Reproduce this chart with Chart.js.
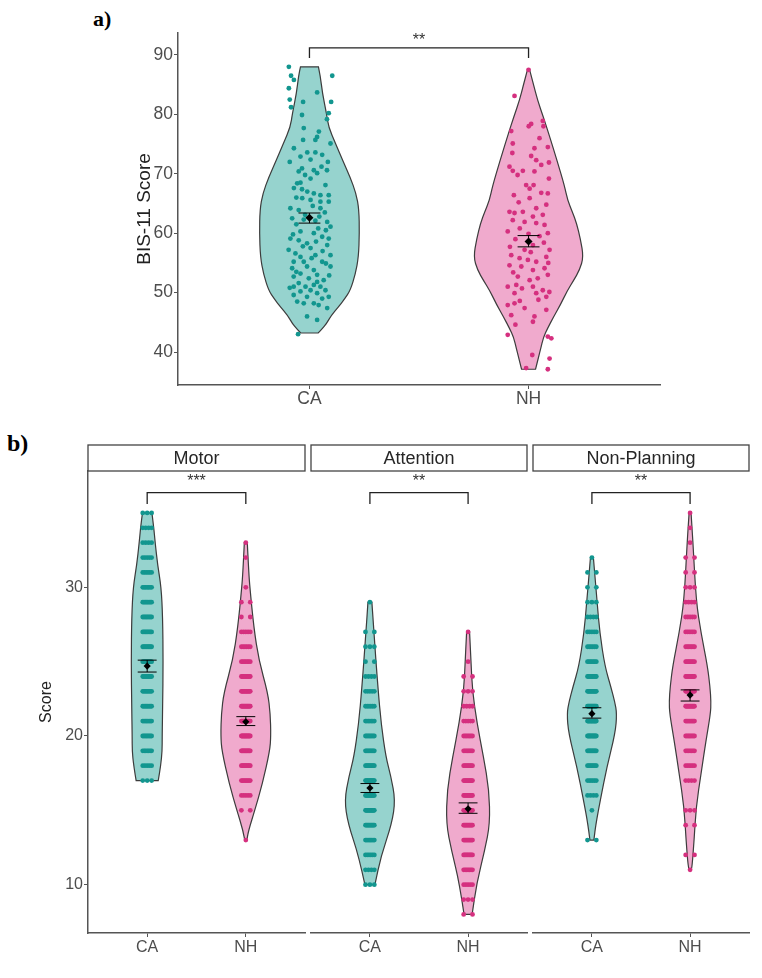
<!DOCTYPE html>
<html>
<head>
<meta charset="utf-8">
<title>BIS-11 violins</title>
<script src="https://cdn.jsdelivr.net/npm/chart.js@4.4.1/dist/chart.umd.min.js"></script>
<style>
  html, body { margin: 0; padding: 0; background: #fff; }
  #wrap { position: relative; width: 762px; height: 978px; overflow: hidden; background: #fff; }
  #wrap canvas { position: absolute; left: 0; }
  .tag { position: absolute; font-family: "Liberation Serif", "Times New Roman", serif; font-weight: bold; line-height: 1; color: #000; }
</style>
</head>
<body>
<div id="wrap">
  <div class="tag" style="left:93px; top:8px; font-size:22px;">a)</div>
  <div class="tag" style="left:7px; top:431px; font-size:24px;">b)</div>
  <canvas id="chartTotal" width="762" height="420" style="top:0;"></canvas>
  <canvas id="chartMotor" width="762" height="538" style="top:440px;"></canvas>
  <canvas id="chartAttention" width="762" height="538" style="top:440px;"></canvas>
  <canvas id="chartNonPlanning" width="762" height="538" style="top:440px;"></canvas>
</div>
<script>
"use strict";

const groups = ["CA", "NH"];
const fillColors = ["#96d3ce", "#f0aacd"];
const dotColors = ["#12968f", "#d5307f"];

// a) BIS-11 total score, jittered points (score / horizontal jitter in category units)
const bisCaScores = [88.0, 86.5, 85.8, 84.4, 82.5, 81.2, 82.1, 83.7, 86.5, 82.1, 80.2, 79.2, 79.9, 77.7, 75.7, 77.1, 76.2, 75.7, 75.1, 74.3,
  73.6, 73.6, 73.2, 72.9, 72.4, 72.0, 72.0, 70.9, 70.6, 70.4, 69.2, 70.1, 70.6, 68.4, 68.5, 67.6, 67.4, 67.0, 68.1, 66.7,
  66.4, 66.4, 65.9, 65.6, 65.3, 65.3, 64.2, 63.9, 64.2, 62.5, 62.3, 62.1, 61.9, 61.1, 60.3, 60.0, 59.1, 58.8, 58.3, 59.4,
  59.1, 58.0, 57.5, 57.2, 56.6, 56.0, 56.3, 56.3, 55.2, 55.2, 55.2, 54.4, 54.1, 54.4, 53.8, 53.2, 53.0, 52.7, 52.4, 52.1,
  51.6, 51.3, 51.0, 51.0, 51.0, 50.4, 50.4, 50.2, 49.9, 49.6, 49.3, 49.3, 49.0, 48.5, 48.2, 48.2, 47.9, 47.4, 46.0, 45.4,
  43.0, 63.1, 63.5, 61.5, 60.8, 60.5, 59.8, 58.6, 57.8, 57.0, 55.8, 54.9, 53.5, 52.9, 51.8, 50.8, 62.8, 64.6, 66.0, 69.8, 71.2];
const bisCaJitter = [-0.094, -0.084, -0.071, -0.094, -0.090, -0.084, -0.029, 0.035, 0.104, 0.099, 0.088, 0.080, -0.034, -0.026, -0.029, 0.043, 0.035, 0.027, 0.096, -0.071,
  -0.010, 0.027, 0.058, -0.041, 0.005, -0.090, 0.084, -0.034, 0.020, -0.049, 0.005, 0.035, 0.080, -0.056, -0.041, -0.071, -0.034, -0.010, 0.073, 0.020,
  0.050, 0.088, -0.033, 0.005, 0.050, 0.088, -0.087, -0.049, 0.050, -0.079, -0.026, 0.027, 0.081, 0.096, -0.041, 0.020, -0.087, -0.049, -0.011, 0.058,
  0.088, 0.081, 0.005, -0.095, -0.064, -0.041, 0.027, 0.096, -0.026, -0.072, 0.058, -0.011, -0.079, 0.096, 0.020, -0.041, 0.035, -0.072, -0.003, 0.065,
  -0.049, 0.020, -0.018, 0.050, -0.072, 0.005, 0.073, -0.041, 0.035, -0.072, 0.088, -0.011, 0.058, -0.056, 0.020, -0.026, 0.042, 0.081, -0.011, 0.035,
  -0.052, -0.020, 0.070, -0.060, 0.040, 0.075, -0.075, 0.030, -0.030, 0.060, 0.010, 0.075, -0.060, 0.090, 0.035, -0.090, 0.045, 0.015, -0.060, -0.020, 0.055];
const bisNhScores = [87.5, 83.1, 78.4, 78.0, 78.9, 78.0, 77.2, 75.1, 74.3, 74.5, 73.5, 73.0, 72.3, 71.5, 71.9, 71.2, 70.5, 70.5, 70.4, 69.2,
  68.1, 68.1, 66.4, 66.8, 66.7, 65.9, 64.8, 63.6, 63.4, 63.6, 62.8, 63.1, 62.2, 61.9, 61.7, 61.4, 60.0, 60.3, 58.0, 57.2,
  57.2, 56.3, 55.8, 55.5, 55.2, 56.0, 54.6, 54.4, 53.8, 54.1, 53.0, 52.7, 52.1, 52.4, 51.0, 51.3, 51.0, 50.4, 49.3, 49.9,
  49.9, 47.9, 48.2, 47.4, 46.2, 46.0, 47.1, 45.1, 42.9, 42.6, 42.3, 39.5, 38.9, 37.3, 37.1, 60.8, 59.5, 59.0, 58.4, 57.7,
  56.8, 55.0, 53.4, 50.7, 50.1, 48.8, 48.6, 44.6, 64.2, 65.2, 67.5, 69.8, 76.0, 59.9];
const bisNhJitter = [0.000, -0.064, 0.012, 0.001, 0.065, 0.068, -0.079, -0.072, 0.027, 0.088, -0.074, 0.012, 0.035, 0.058, 0.093, -0.087, -0.072, -0.026, 0.027, 0.093,
  -0.011, 0.023, -0.067, 0.058, 0.088, 0.005, 0.081, -0.087, -0.064, -0.026, 0.020, 0.065, -0.072, -0.018, 0.035, 0.073, 0.088, -0.095, 0.020, -0.018,
  0.096, -0.079, -0.041, -0.003, 0.035, 0.081, -0.087, -0.033, 0.020, 0.073, 0.088, -0.049, 0.005, 0.042, -0.095, -0.056, 0.020, 0.065, 0.081, -0.064,
  0.035, -0.095, -0.064, -0.018, -0.079, 0.027, 0.081, 0.020, -0.095, 0.088, 0.104, 0.017, 0.096, -0.011, 0.088, -0.040, 0.050, -0.060, 0.070, -0.085,
  0.010, 0.090, -0.070, -0.030, 0.095, 0.045, -0.040, -0.060, 0.035, -0.045, 0.005, -0.050, 0.050, 0.000];

// violin outlines: [score, half width in category units]
const bisCaViolin = [[88, 0.041], [86.4, 0.050], [83.6, 0.059], [80.1, 0.078], [77.9, 0.087], [75.1, 0.119], [72.3, 0.151], [69.5, 0.185],
  [66.7, 0.213], [64, 0.226], [60, 0.228], [56, 0.224], [53.2, 0.210], [50.4, 0.187], [48.9, 0.160], [47.6, 0.132], [46.2, 0.100],
  [44.8, 0.078], [43.9, 0.058], [43.2, 0.040]];
const bisNhViolin = [[87.5, 0.005], [85, 0.023], [82.4, 0.041], [79.5, 0.068], [76.9, 0.091], [72, 0.132], [68, 0.164], [65.6, 0.178],
  [63.5, 0.201], [61.7, 0.219], [59, 0.237], [56, 0.251], [53.8, 0.233], [52, 0.205], [50.4, 0.178], [48, 0.146], [45.9, 0.114],
  [44, 0.087], [42.5, 0.068], [40.5, 0.055], [39.2, 0.046], [37.1, 0.032]];
const bisMeans = [62.6, 58.6];
const bisSeLow = [61.7, 57.7];
const bisSeHigh = [63.4, 59.6];
const bisTicks = [40, 50, 60, 70, 80, 90];

// b) subscales, points stacked on integer scores: [score, count]
const subscales = ["Motor", "Attention", "Non-Planning"];
const subTicks = [10, 20, 30];
const subStars = ["***", "**", "**"];

const motorCaCounts = [[17, 3], [18, 5], [19, 7], [20, 8], [21, 8], [22, 8], [23, 8], [24, 9], [25, 9], [26, 9], [27, 8], [28, 8], [29, 8], [30, 7], [31, 6], [32, 5], [33, 4], [34, 4], [35, 3]];
const motorNhCounts = [[13, 1], [15, 2], [16, 5], [17, 8], [18, 11], [19, 13], [20, 14], [21, 14], [22, 12], [23, 11], [24, 9], [25, 7], [26, 6], [27, 5], [28, 2], [29, 2], [30, 1], [32, 1], [33, 1]];
const attentionCaCounts = [[10, 3], [11, 4], [12, 6], [13, 8], [14, 11], [15, 13], [16, 13], [17, 12], [18, 10], [19, 9], [20, 8], [21, 7], [22, 6], [23, 5], [24, 4], [25, 2], [26, 3], [27, 2], [29, 1]];
const attentionNhCounts = [[8, 2], [9, 3], [10, 5], [11, 7], [12, 9], [13, 10], [14, 11], [15, 11], [16, 11], [17, 10], [18, 9], [19, 8], [20, 7], [21, 5], [22, 4], [23, 3], [24, 2], [25, 1], [27, 1]];
const nonPlanningCaCounts = [[13, 2], [15, 1], [16, 4], [17, 6], [18, 8], [19, 11], [20, 12], [21, 13], [22, 13], [23, 11], [24, 9], [25, 7], [26, 6], [27, 5], [28, 4], [29, 3], [30, 2], [31, 2], [32, 1]];
const nonPlanningNhCounts = [[11, 1], [12, 2], [14, 2], [15, 3], [17, 4], [18, 6], [19, 7], [20, 8], [21, 9], [22, 10], [23, 10], [24, 9], [25, 8], [26, 7], [27, 6], [28, 5], [29, 4], [30, 3], [31, 2], [32, 2], [33, 1], [34, 1], [35, 1]];

const motorCaViolin = [[35, 0.048], [34, 0.067], [33, 0.081], [31.5, 0.106], [30, 0.142], [28, 0.157], [25, 0.162], [22, 0.157], [20, 0.152], [19, 0.152], [18, 0.137], [17, 0.112]];
const motorNhViolin = [[33, 0.015], [31, 0.030], [30, 0.041], [27.3, 0.081], [25.1, 0.132], [22.9, 0.223], [21.5, 0.248], [20, 0.254], [19, 0.243], [16.8, 0.169], [15, 0.091], [13.7, 0.030], [13, 0.010]];
const attentionCaViolin = [[29, 0.020], [26.9, 0.041], [23.3, 0.081], [20.8, 0.115], [18.6, 0.162], [17.3, 0.213], [15.7, 0.259], [14.1, 0.223], [11.9, 0.112], [10, 0.051]];
const attentionNhViolin = [[27, 0.015], [25, 0.030], [23.1, 0.043], [20.85, 0.091], [18.6, 0.157], [16.4, 0.213], [14.1, 0.223], [12.3, 0.169], [10.1, 0.088], [8, 0.041]];
const nonPlanningCaViolin = [[32, 0.015], [29.1, 0.051], [26.9, 0.081], [24.7, 0.132], [23.3, 0.193], [22.3, 0.233], [21.5, 0.254], [20.2, 0.238], [17.9, 0.152], [15.7, 0.086], [14.1, 0.041], [13, 0.020]];
const nonPlanningNhViolin = [[35, 0.010], [33, 0.030], [29.1, 0.061], [26.9, 0.112], [24.7, 0.177], [23.3, 0.203], [22.3, 0.213], [21.5, 0.208], [19.7, 0.162], [17.5, 0.112], [15.2, 0.061], [13, 0.041], [11.2, 0.020], [11, 0.010]];

const subMeans = [[24.7, 20.95], [16.5, 15.1], [21.5, 22.75]];
const subSeLow = [[24.3, 20.7], [16.2, 14.8], [21.2, 22.35]];
const subSeHigh = [[25.1, 21.3], [16.8, 15.5], [21.9, 23.1]];

const family = "'Liberation Sans', Arial, Helvetica, sans-serif";
Chart.defaults.font.family = family;

function jitterPoints(scores, jitter, center) {
    return scores.map((s, i) => ({ x: center + jitter[i], y: s }));
}

// spread the points of one score level evenly across a small band
function stackedPoints(counts, center) {
    const pts = [];
    counts.forEach(([score, n]) => {
        for (let i = 0; i < n; i++) {
            const off = n === 1 ? 0 : -0.045 + 0.09 * i / (n - 1);
            pts.push({ x: center + off, y: score });
        }
    });
    return pts;
}

function smoothSide(ctx, pts) {
    for (let i = 1; i < pts.length - 1; i++) {
        const mx = (pts[i][0] + pts[i + 1][0]) / 2;
        const my = (pts[i][1] + pts[i + 1][1]) / 2;
        ctx.quadraticCurveTo(pts[i][0], pts[i][1], mx, my);
    }
    const last = pts[pts.length - 1];
    ctx.lineTo(last[0], last[1]);
}

function violinLayer(p) {
    return {
        id: "violinLayer",
        beforeDatasetsDraw(chart) {
            const { ctx, scales: { x, y } } = chart;
            ctx.save();
            p.shapes.forEach((shape, i) => {
                const c = i + 1;
                const right = shape.map(s => [x.getPixelForValue(c + s[1]), y.getPixelForValue(s[0])]);
                const left = shape.map(s => [x.getPixelForValue(c - s[1]), y.getPixelForValue(s[0])]).reverse();
                ctx.beginPath();
                ctx.moveTo(right[0][0], right[0][1]);
                smoothSide(ctx, right);
                ctx.lineTo(left[0][0], left[0][1]);
                smoothSide(ctx, left);
                ctx.closePath();
                ctx.fillStyle = fillColors[i];
                ctx.fill();
                ctx.lineWidth = 1.2;
                ctx.strokeStyle = "#3c3c3c";
                ctx.stroke();
            });
            ctx.restore();
        },
        afterDatasetsDraw(chart) {
            const { ctx, scales: { x, y } } = chart;
            ctx.save();
            ctx.strokeStyle = "#000";
            ctx.lineWidth = 1;
            p.means.forEach((m, i) => {
                const c = i + 1;
                const lo = y.getPixelForValue(p.seLow[i]);
                const hi = y.getPixelForValue(p.seHigh[i]);
                const xl = x.getPixelForValue(c - p.capHalf);
                const xr = x.getPixelForValue(c + p.capHalf);
                const xc = x.getPixelForValue(c);
                ctx.beginPath();
                ctx.moveTo(xl, lo); ctx.lineTo(xr, lo);
                ctx.moveTo(xl, hi); ctx.lineTo(xr, hi);
                ctx.moveTo(xc, lo); ctx.lineTo(xc, hi);
                ctx.stroke();
            });
            ctx.restore();
        },
        afterDraw(chart) {
            const { ctx, scales: { x, y }, chartArea } = chart;
            const b = p.bracket;
            const x1 = x.getPixelForValue(1);
            const x2 = x.getPixelForValue(2);
            const yl = y.getPixelForValue(b.line);
            const yd = y.getPixelForValue(b.drop);
            ctx.save();
            ctx.strokeStyle = "#222";
            ctx.lineWidth = 1.3;
            ctx.beginPath();
            ctx.moveTo(x1, yd); ctx.lineTo(x1, yl); ctx.lineTo(x2, yl); ctx.lineTo(x2, yd);
            ctx.stroke();
            ctx.fillStyle = "#333";
            ctx.font = b.size + "px " + family;
            ctx.textAlign = "center";
            ctx.textBaseline = "alphabetic";
            ctx.fillText(p.stars, (x1 + x2) / 2, y.getPixelForValue(b.text));
            if (p.strip) {
                const h = 26;
                ctx.fillStyle = "#fff";
                ctx.fillRect(chartArea.left, chartArea.top - h, chartArea.right - chartArea.left, h);
                ctx.strokeStyle = "#444";
                ctx.lineWidth = 1.3;
                ctx.strokeRect(chartArea.left, chartArea.top - h, chartArea.right - chartArea.left, h);
                ctx.fillStyle = "#262626";
                ctx.font = "18px " + family;
                ctx.textBaseline = "middle";
                ctx.fillText(p.strip, (chartArea.left + chartArea.right) / 2, chartArea.top - h / 2 + 1);
            }
            ctx.restore();
        }
    };
}

function buildPanel(canvasId, p) {
    const datasets = [{
        data: p.means.map((m, i) => ({ x: i + 1, y: m })),
        pointStyle: "rectRot",
        pointRadius: p.meanRadius,
        backgroundColor: "#000",
        borderWidth: 0
    }];
    p.dots.forEach((pts, i) => datasets.push({
        data: pts,
        pointRadius: p.dotRadius,
        backgroundColor: dotColors[i],
        borderWidth: 0
    }));

    return new Chart(document.getElementById(canvasId), {
        type: "scatter",
        data: { datasets: datasets },
        options: {
            responsive: false,
            animation: false,
            events: [],
            layout: { padding: p.padding },
            plugins: { legend: { display: false }, tooltip: { enabled: false } },
            scales: {
                x: {
                    type: "linear",
                    min: 0.4,
                    max: 2.6,
                    afterBuildTicks: s => { s.ticks = [{ value: 1 }, { value: 2 }]; },
                    afterFit: s => { s.height = p.xHeight; },
                    ticks: {
                        callback: v => groups[v - 1],
                        font: { size: p.tickSize },
                        color: "#4d4d4d",
                        padding: p.xPad,
                        maxRotation: 0,
                        autoSkip: false
                    },
                    grid: { drawOnChartArea: false, tickLength: 4, color: "#555" },
                    border: { display: true, color: "#555", width: 1.5 }
                },
                y: {
                    display: p.showY,
                    min: p.yMin,
                    max: p.yMax,
                    afterBuildTicks: s => { s.ticks = p.yTicks.map(v => ({ value: v })); },
                    afterFit: s => { s.width = p.showY ? p.yWidth : 0; },
                    ticks: { font: { size: p.tickSize }, color: "#4d4d4d", padding: 1 },
                    grid: { drawOnChartArea: false, tickLength: 4, color: "#555" },
                    border: { display: true, color: "#555", width: 1.5 },
                    title: {
                        display: !!p.yTitle,
                        text: p.yTitle || "",
                        font: { size: p.titleSize },
                        color: "#222",
                        padding: 0
                    }
                }
            }
        },
        plugins: [violinLayer(p)]
    });
}

buildPanel("chartTotal", {
    padding: { left: 133, right: 102, top: 33, bottom: 0 },
    yWidth: 45,
    xHeight: 35,
    xPad: 0,
    showY: true,
    yTitle: "BIS-11 Score",
    titleSize: 19,
    tickSize: 17.5,
    yMin: 34.45,
    yMax: 93.7,
    yTicks: bisTicks,
    shapes: [bisCaViolin, bisNhViolin],
    dots: [jitterPoints(bisCaScores, bisCaJitter, 1), jitterPoints(bisNhScores, bisNhJitter, 2)],
    dotRadius: 2.4,
    means: bisMeans,
    seLow: bisSeLow,
    seHigh: bisSeHigh,
    meanRadius: 4,
    capHalf: 0.05,
    stars: "**",
    bracket: { line: 91.2, drop: 89.5, text: 91.75, size: 16 }
});

const facetCanvases = ["chartMotor", "chartAttention", "chartNonPlanning"];
const facetPads = [
    { left: 37, right: 457, top: 31, bottom: 0 },
    { left: 311, right: 235, top: 31, bottom: 0 },
    { left: 533, right: 13, top: 31, bottom: 0 }
];
const facetCounts = [
    [motorCaCounts, motorNhCounts],
    [attentionCaCounts, attentionNhCounts],
    [nonPlanningCaCounts, nonPlanningNhCounts]
];
const facetViolins = [
    [motorCaViolin, motorNhViolin],
    [attentionCaViolin, attentionNhViolin],
    [nonPlanningCaViolin, nonPlanningNhViolin]
];

subscales.forEach((name, k) => {
    buildPanel(facetCanvases[k], {
        padding: facetPads[k],
        yWidth: 51,
        xHeight: 45,
        xPad: 1,
        showY: k === 0,
        yTitle: k === 0 ? "Score" : "",
        titleSize: 16,
        tickSize: 16,
        yMin: 6.75,
        yMax: 37.82,
        yTicks: subTicks,
        shapes: facetViolins[k],
        dots: [stackedPoints(facetCounts[k][0], 1), stackedPoints(facetCounts[k][1], 2)],
        dotRadius: 2.4,
        means: subMeans[k],
        seLow: subSeLow[k],
        seHigh: subSeHigh[k],
        meanRadius: 3.6,
        capHalf: 0.096,
        stars: subStars[k],
        strip: name,
        bracket: { line: 36.36, drop: 35.6, text: 36.81, size: 16 }
    });
});
</script>
</body>
</html>
